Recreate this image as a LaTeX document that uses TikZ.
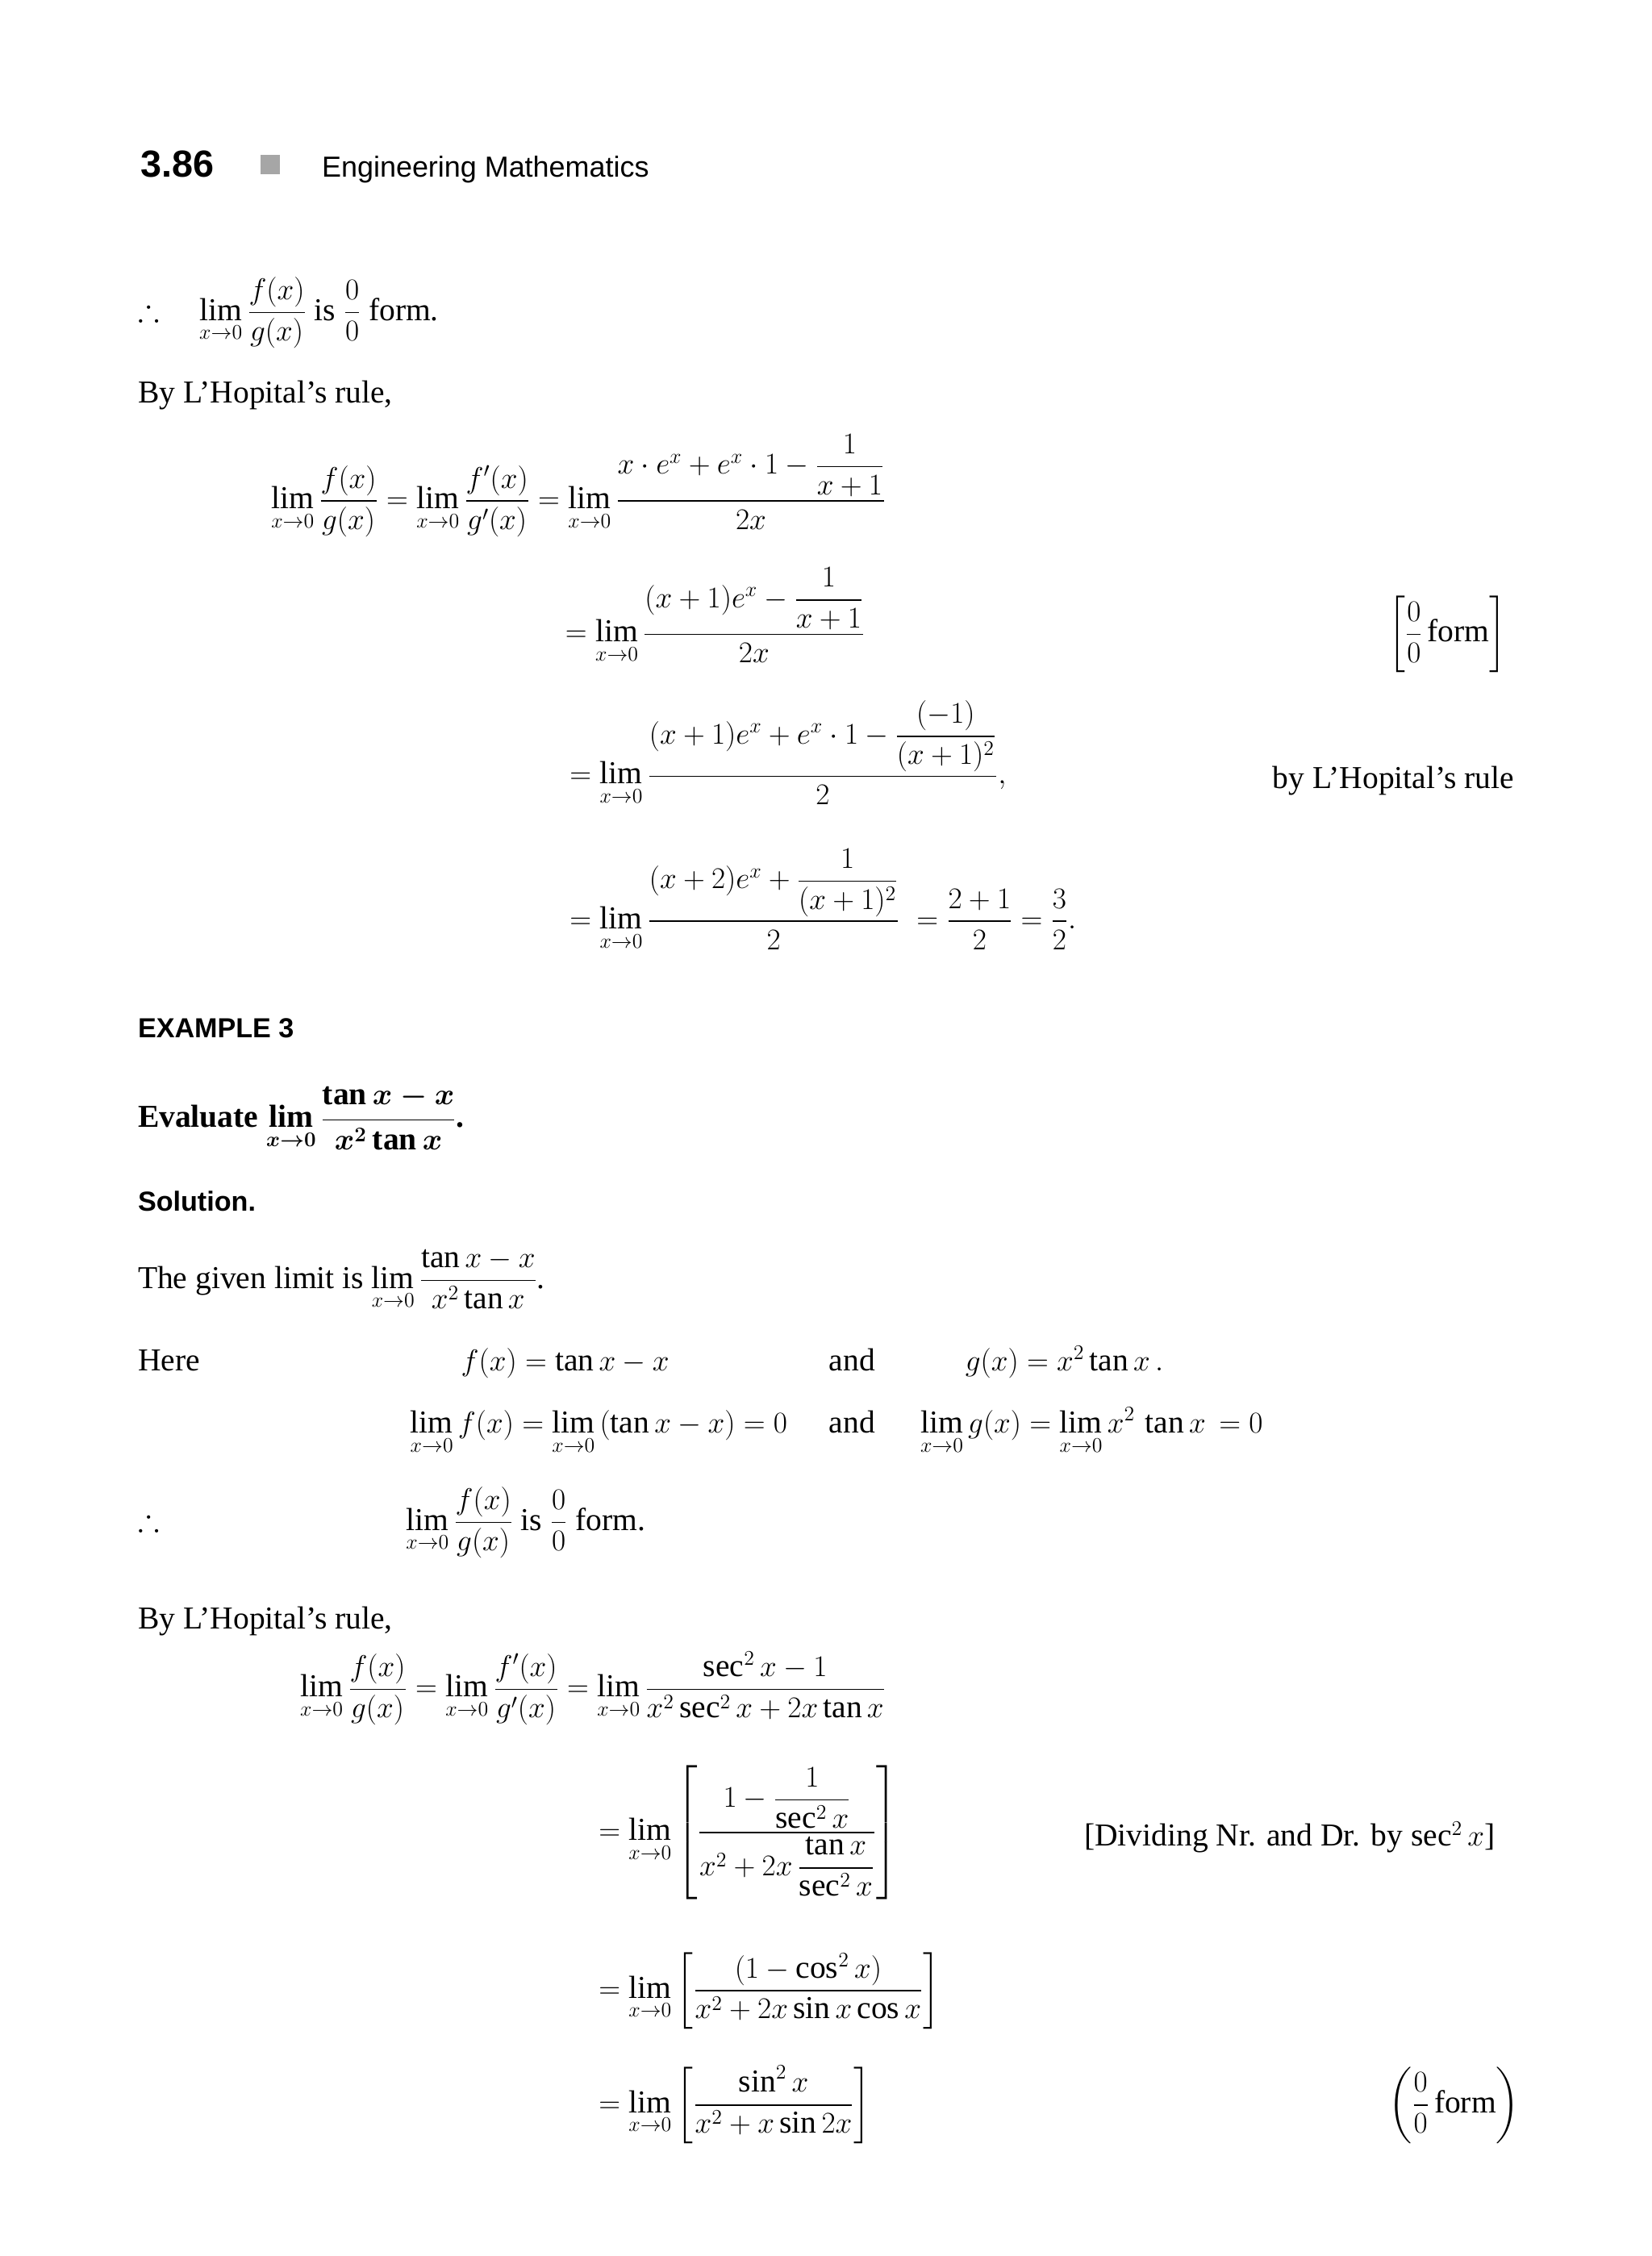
\documentclass[tikz,border=0pt]{standalone}
\usepackage{amsmath,amssymb,bm}
\usepackage{fontspec}
\setmainfont{Liberation Serif}
\setsansfont{Liberation Sans}
\begin{document}
\begin{tikzpicture}[x=1pt,y=-1pt,
  every node/.style={font=\fontsize{22}{26}\selectfont, inner sep=0pt, anchor=base west},
  hdr/.style={font=\sffamily\fontsize{20}{24}\selectfont},
  sbold/.style={font=\sffamily\bfseries\fontsize{19}{22}\selectfont}]
\useasboundingbox[fill=white] (0,0) rectangle (1140,1557);
\begin{scope}[yshift=4pt]
\node[font=\sffamily\bfseries\fontsize{26}{30}\selectfont] (pg) at (97,126) {3.86};
\fill[gray!70] (180,111) rectangle (193,124);
\node[hdr] (hd) at (222,126) {Engineering Mathematics};

\node (a1) at (95,225) {$\therefore\quad\displaystyle \lim_{x\to0}\frac{f(x)}{g(x)}$ is $\displaystyle\frac{0}{0}$ form.};
\node (a2) at (95,282) {By L'Hopital's rule,};
\node (a3) at (187,355) {$\displaystyle \lim_{x\to0}\frac{f(x)}{g(x)}=\lim_{x\to0}\frac{f'(x)}{g'(x)}=\lim_{x\to0}\frac{x\cdot e^x+e^x\cdot 1-\dfrac{1}{x+1}}{2x}$};
\node (a4) at (390,447) {$\displaystyle =\lim_{x\to0}\frac{(x+1)e^x-\dfrac{1}{x+1}}{2x}$};
\node (a4r) at (958,447) {$\displaystyle\left[\frac{0}{0}\,\text{form}\right]$};
\node (a5) at (393,545) {$\displaystyle =\lim_{x\to0}\frac{(x+1)e^x+e^x\cdot1-\dfrac{(-1)}{(x+1)^2}}{2},$};
\node (a5r) at (878,548) {by L'Hopital's rule};
\node (a6) at (393,645) {$\displaystyle =\lim_{x\to0}\frac{(x+2)e^x+\dfrac{1}{(x+1)^2}}{2}\;=\frac{2+1}{2}=\frac{3}{2}.$};

\node[sbold] (ex) at (95,720) {EXAMPLE 3};
\node[font=\bfseries\fontsize{22}{26}\selectfont] (ev) at (95,782) {Evaluate $\bm{\displaystyle\lim_{x\to0}\frac{\tan x-x}{x^2\tan x}}$.};
\node[sbold] (so) at (95,840) {Solution.};
\node (b1) at (95,893) {The given limit is $\displaystyle\lim_{x\to0}\frac{\tan x-x}{x^2\tan x}$.};
\node (b2) at (95,950) {Here};
\node (b2a) at (318,950) {$f(x)=\tan x-x$};
\node (b2b) at (572,950) {and};
\node (b2c) at (666,950) {$g(x)=x^2\tan x\,.$};
\node (b3) at (283,993) {$\displaystyle\lim_{x\to0}f(x)=\lim_{x\to0}\,(\tan x-x)=0$};
\node (b3b) at (572,993) {and};
\node (b3c) at (635,993) {$\displaystyle\lim_{x\to0}g(x)=\lim_{x\to0}x^2\,\tan x\,=0$};
\node (b4) at (95,1060) {$\therefore$};
\node (b4a) at (280,1060) {$\displaystyle\lim_{x\to0}\frac{f(x)}{g(x)}$ is $\displaystyle\frac{0}{0}$ form.};
\node (b5) at (95,1128) {By L'Hopital's rule,};
\node (c1) at (207,1175) {$\displaystyle\lim_{x\to0}\frac{f(x)}{g(x)}=\lim_{x\to0}\frac{f'(x)}{g'(x)}=\lim_{x\to0}\frac{\sec^2x-1}{x^2\sec^2x+2x\tan x}$};
\node (c2) at (413,1274) {$\displaystyle=\lim_{x\to0}\left[\frac{1-\dfrac{1}{\sec^2x}}{x^2+2x\,\dfrac{\tan x}{\sec^2x}}\right]$};
\node (c2r) at (748,1278) {[Dividing Nr. and Dr. by $\sec^2x$]};
\node (c3) at (413,1383) {$\displaystyle=\lim_{x\to0}\left[\frac{(1-\cos^2x)}{x^2+2x\sin x\cos x}\right]$};
\node (c4) at (413,1462) {$\displaystyle=\lim_{x\to0}\left[\frac{\sin^2x}{x^2+x\sin 2x}\right]$};
\node (c4r) at (958,1462) {$\displaystyle\left(\frac{0}{0}\,\text{form}\right)$};
\end{scope}
\end{tikzpicture}
\end{document}
